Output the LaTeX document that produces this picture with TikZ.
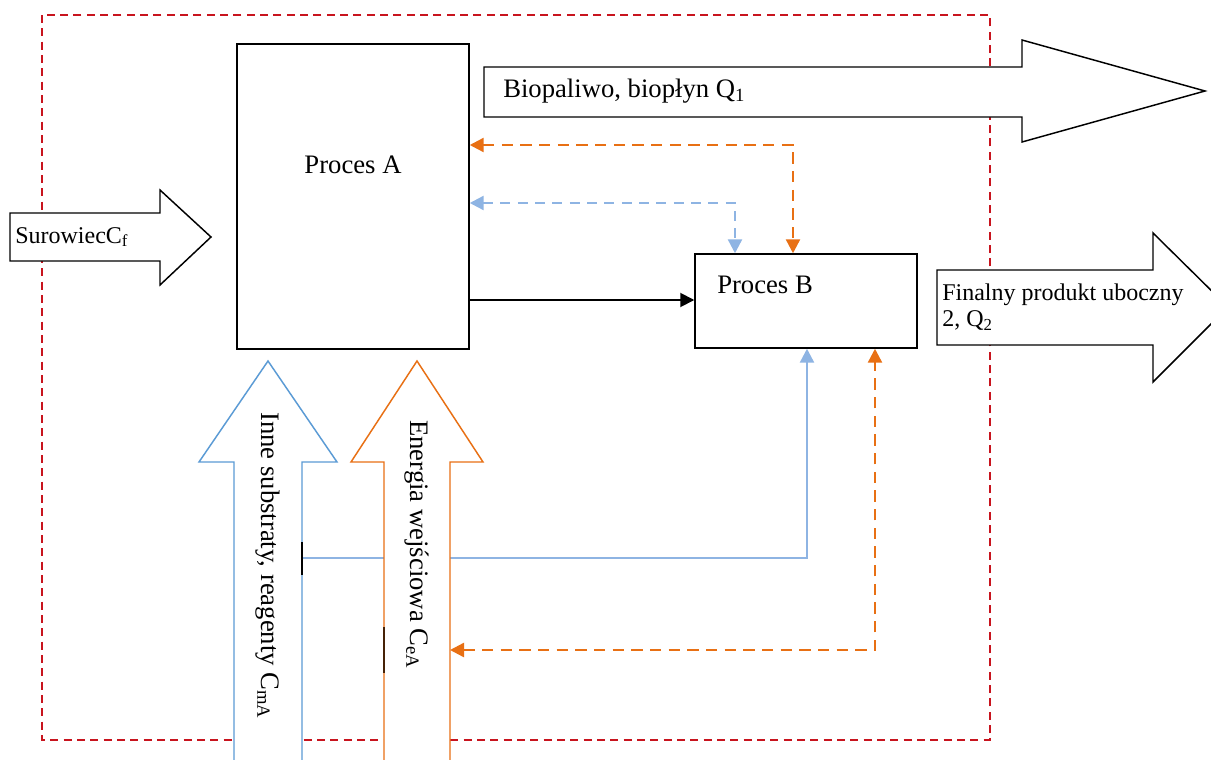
\documentclass[tikz,border=0pt]{standalone}
\usepackage{fontspec}
\setmainfont{Liberation Serif}
\usetikzlibrary{arrows.meta,calc}
\definecolor{framered}{RGB}{200,20,30}
\definecolor{bigblue}{RGB}{91,155,213}
\definecolor{lightblue}{RGB}{142,180,227}
\definecolor{orangeA}{RGB}{232,112,20}
\tikzset{
  box/.style={draw=black, line width=1.1pt, fill=white, inner sep=0pt},
  blockarrow/.style={draw=black, line width=1.1pt, fill=white, line join=miter},
  lbl/.style={inner sep=0pt, font=\fontsize{20pt}{24pt}\selectfont},
  smalllbl/.style={inner sep=0pt, font=\fontsize{18pt}{20pt}\selectfont},
  tip/.style={-{Triangle[length=10.5pt,width=10.5pt]}},
  tips/.style={{Triangle[length=10.5pt,width=10.5pt]}-{Triangle[length=10.5pt,width=10.5pt]}},
  odash/.style={draw=orangeA, line width=1.8pt, dash pattern=on 8.5pt off 5.5pt},
  bdash/.style={draw=lightblue, line width=1.8pt, dash pattern=on 7.5pt off 5.5pt},
}
\begin{document}
\begin{tikzpicture}[x=0.75pt,y=-0.75pt]
\useasboundingbox (0,0) rectangle (1211,760);
\clip (0,0) rectangle (1211,760);
\fill[white] (0,0) rectangle (1211,760);

% system boundary
\draw[framered, line width=1.3pt, dash pattern=on 6pt off 4pt] (42,15) rectangle (990,740);

% blue feedback line (behind orange arrow)
\coordinate (blueStart) at (302,558);
\coordinate (blueCorner) at (807,558);

% Proces boxes
\node[box, minimum width=174pt, minimum height=228.75pt] (A) at (353,196.5) {};
\node[lbl] (Alabel) at (353,165) {Proces A};
\node[box, minimum width=166.5pt, minimum height=70.5pt] (B) at (806,301) {};
\node[lbl, anchor=west] (Blabel) at (717,285) {Proces B};

\draw[lightblue, line width=1.8pt, tip] (blueStart) -- (blueCorner) -- (B.south -| blueCorner);

% Surowiec arrow
\draw[blockarrow] (10,213) -- (160,213) -- (160,190) -- (211,237) -- (160,285) -- (160,261) -- (10,261) -- cycle;
\node[smalllbl, anchor=west] (sur) at (15,237) {SurowiecC\textsubscript{f}};

% Biopaliwo arrow
\draw[blockarrow] (484,67) -- (1022,67) -- (1022,40) -- (1205,91) -- (1022,142) -- (1022,117) -- (484,117) -- cycle;
\node[lbl, anchor=west] (bio) at (503,91) {Biopaliwo, biopłyn Q\textsubscript{1}};

% Finalny arrow
\draw[blockarrow] (937,270) -- (1153,270) -- (1153,233) -- (1228,307) -- (1153,382) -- (1153,345) -- (937,345) -- cycle;
\node[smalllbl, anchor=west, align=left] (fin) at (942,307) {Finalny produkt uboczny\\2, Q\textsubscript{2}};

% Inne substraty arrow (blue)
\draw[blockarrow, draw=bigblue] (234,775) -- (234,462) -- (199,462) -- (268,361) -- (337,462) -- (302,462) -- (302,775);
\draw[black, line width=1.4pt] (302,542) -- (302,575);
\node[lbl, rotate=-90, anchor=west] (inne) at (268,412) {Inne substraty, reagenty C\textsubscript{mA}};

% Energia arrow (orange)
\draw[blockarrow, draw=orangeA] (384,775) -- (384,462) -- (351,462) -- (417,361) -- (483,462) -- (450,462) -- (450,775);
\draw[black!70!orangeA, line width=1.2pt] (384,627) -- (384,673);
\node[lbl, rotate=-90, anchor=west] (energia) at (417,420) {Energia wejściowa C\textsubscript{eA}};

% connectors
\coordinate (o1) at (793,145);
\coordinate (b1) at (735,203);
\coordinate (k1) at (469,300);
\coordinate (o2) at (875,650);
\coordinate (Eright) at (450,650);

\draw[black, line width=1.4pt, tip] (A.east |- k1) -- (B.west |- k1);
\draw[odash, tips] (A.east |- o1) -| (B.north -| o1);
\draw[bdash, tips] (A.east |- b1) -| (B.north -| b1);
\draw[odash, tips] (Eright) -| (B.south -| o2);
\end{tikzpicture}
\end{document}
